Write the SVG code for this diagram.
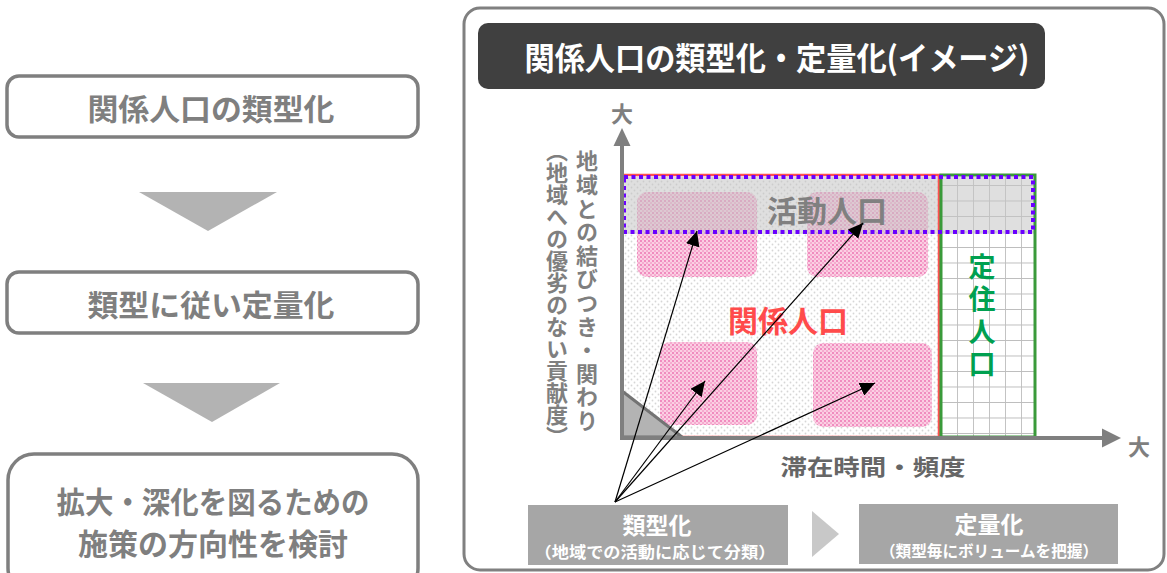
<svg xmlns="http://www.w3.org/2000/svg" width="1167" height="573" viewBox="0 0 1167 573">
<style>
text{font-family:"Noto Sans CJK JP","Noto Sans",sans-serif;font-weight:700;}
.lbox{fill:#fff;stroke:#7f7f7f;stroke-width:3.5;}
.ltxt{fill:#7f7f7f;font-size:30px;text-anchor:middle;dominant-baseline:central;}
.down{fill:#b3b3b3;}
.gtxt{fill:#7f7f7f;font-size:22px;}
.bbox{fill:#a6a6a6;}
.btitle{fill:#fff;font-size:23px;text-anchor:middle;dominant-baseline:central;}
.bsub{fill:#fff;font-size:16px;text-anchor:middle;dominant-baseline:central;}
.conn{stroke:#000;stroke-width:1.2;fill:none;marker-end:url(#ah);}
.axis{stroke:#7f7f7f;stroke-width:4;fill:none;}
</style>
<defs>
<marker id="ah" markerUnits="userSpaceOnUse" markerWidth="16" markerHeight="14" refX="15" refY="7" orient="auto">
<path d="M0,0 L15,7 L0,14 z" fill="#000"/>
</marker>
<pattern id="dots" patternUnits="userSpaceOnUse" width="6" height="6">
<rect width="6" height="6" fill="#fff"/>
<circle cx="1.5" cy="1.5" r="0.9" fill="#d6d6d6"/>
<circle cx="4.5" cy="4.5" r="0.9" fill="#d6d6d6"/>
</pattern>
<pattern id="pink" patternUnits="userSpaceOnUse" width="4" height="4">
<rect width="4" height="4" fill="#fbcfe3"/>
<rect width="2" height="2" fill="#f08cbf"/>
<rect x="2" y="2" width="2" height="2" fill="#f5abcf"/>
</pattern>
<pattern id="grid" patternUnits="userSpaceOnUse" x="941" y="169.5" width="16" height="15.5">
<rect width="16" height="15.5" fill="#fff"/>
<path d="M0,0 V15.5 M0,0 H16" stroke="#bdbdbd" stroke-width="1.8"/>
</pattern>
</defs>

<rect x="464" y="8" width="700" height="562" rx="16" fill="#fff" stroke="#808080" stroke-width="3"/>

<g id="step1">
<rect class="lbox" x="7" y="76" width="411" height="61" rx="12"/>
<text class="ltxt" x="211" y="106.5" textLength="247" lengthAdjust="spacingAndGlyphs">関係人口の類型化</text>
</g>
<g id="down1"><polygon class="down" points="139,192 277,192 208,231"/></g>
<g id="step2">
<rect class="lbox" x="7" y="272" width="411" height="61" rx="12"/>
<text class="ltxt" x="211" y="302.5" textLength="247" lengthAdjust="spacingAndGlyphs">類型に従い定量化</text>
</g>
<g id="down2"><polygon class="down" points="143,383 280,383 212,422"/></g>
<g id="step3">
<rect class="lbox" x="8" y="454" width="410" height="140" rx="26"/>
<text class="ltxt" x="213" y="500" textLength="313" lengthAdjust="spacingAndGlyphs">拡大・深化を図るための</text>
<text class="ltxt" x="213" y="542">施策の方向性を検討</text>
</g>

<g id="title">
<rect x="478" y="23" width="567" height="66" rx="10" fill="#404040"/>
<text x="777" y="56" fill="#fff" font-size="32" text-anchor="middle" dominant-baseline="central" textLength="505" lengthAdjust="spacingAndGlyphs">関係人口の類型化・定量化(イメージ)</text>
</g>

<g id="kankei">
<rect x="622" y="175" width="317" height="262" fill="url(#dots)"/>
</g>
<g id="teiju">
<rect x="941" y="175" width="94" height="262" fill="url(#grid)"/>
</g>
<g id="types">
<rect x="637" y="192" width="120" height="85" rx="10" fill="url(#pink)"/>
<rect x="807" y="192" width="121" height="85" rx="10" fill="url(#pink)"/>
<rect x="660" y="342" width="97" height="83" rx="10" fill="url(#pink)"/>
<rect x="813" y="343" width="119" height="84" rx="10" fill="url(#pink)"/>
</g>
<g id="corner">
<polygon points="622,391 622,437 682,437" fill="#b3b3b3" stroke="#737373" stroke-width="3" stroke-linejoin="round"/>
</g>
<g id="katsudo">
<rect x="623" y="177" width="411" height="57" fill="#c4c4c4" fill-opacity="0.55"/>
</g>
<g id="borders">
<path d="M622,437 V175 H939 V437 H682" fill="none" stroke="#ff5050" stroke-width="2.5"/>
<rect x="941" y="175" width="94" height="262" fill="none" stroke="#3a9a3a" stroke-width="3"/>
<rect x="624" y="177" width="409" height="55" fill="none" stroke="#6a00ff" stroke-width="4" stroke-dasharray="4 3.5"/>
</g>
<g id="labels">
<text x="827" y="208.5" fill="#808080" font-size="30" text-anchor="middle" dominant-baseline="central">活動人口</text>
<text x="788" y="318.5" fill="#ff4b4b" font-size="30" text-anchor="middle" dominant-baseline="central">関係人口</text>
<text x="982" y="253" fill="#00a050" font-size="27" style="writing-mode:vertical-rl;letter-spacing:5.5px">定住人口</text>
</g>

<g id="axes">
<path class="axis" d="M622,439 V144"/>
<polygon points="622,128 613.5,146 630.5,146" fill="#7f7f7f"/>
<path class="axis" d="M620,438 H1104"/>
<polygon points="1121,438 1102,428.5 1102,447.5" fill="#7f7f7f"/>
<text class="gtxt" x="622" y="112" font-size="20" text-anchor="middle" dominant-baseline="central">大</text>
<text class="gtxt" x="1139" y="445" font-size="20" text-anchor="middle" dominant-baseline="central">大</text>
<text fill="#666" font-size="22" x="873" y="465" text-anchor="middle" dominant-baseline="central" textLength="185" lengthAdjust="spacingAndGlyphs">滞在時間・頻度</text>
<text class="gtxt" x="587" y="150" style="writing-mode:vertical-rl;letter-spacing:1.6px">地域との結びつき・関わり</text>
<text class="gtxt" x="557" y="140" style="writing-mode:vertical-rl">（地域への優劣のない貢献度）</text>
</g>

<g id="connectors">
<line class="conn" x1="615" y1="502" x2="697" y2="231"/>
<line class="conn" x1="615" y1="502" x2="863" y2="223"/>
<line class="conn" x1="615" y1="502" x2="705" y2="381"/>
<line class="conn" x1="615" y1="502" x2="875" y2="383"/>
</g>

<g id="ruikei">
<rect class="bbox" x="528" y="505" width="260" height="60"/>
<text class="btitle" x="657" y="524">類型化</text>
<text class="bsub" x="655" y="551" textLength="241" lengthAdjust="spacingAndGlyphs">（地域での活動に応じて分類）</text>
</g>
<g id="chevron"><polygon points="812,511 839,534 812,557" fill="#c8c8c8"/></g>
<g id="teiryo">
<rect class="bbox" x="859" y="504" width="259" height="60"/>
<text class="btitle" x="989" y="523">定量化</text>
<text class="bsub" x="989" y="550" textLength="218" lengthAdjust="spacingAndGlyphs">（類型毎にボリュームを把握）</text>
</g>
</svg>
